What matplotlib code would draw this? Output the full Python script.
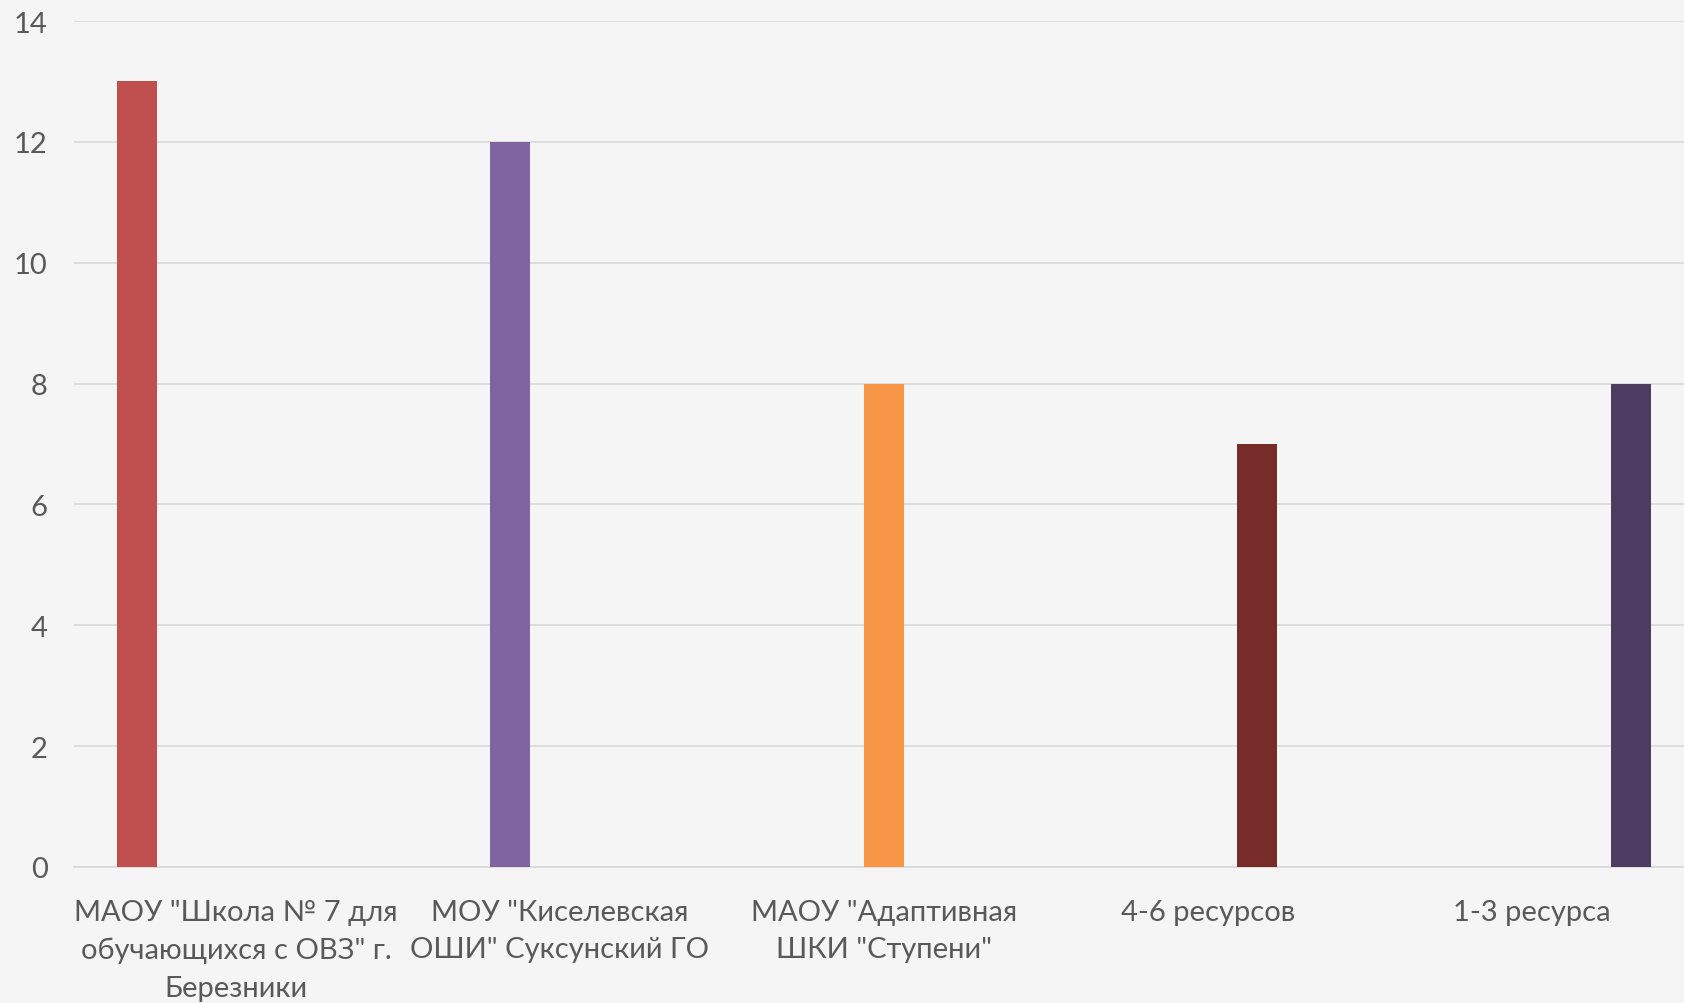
import matplotlib
matplotlib.use("Agg")
import matplotlib.pyplot as plt

# ---------------------------------------------------------------- data
categories = [
    'МАОУ "Школа № 7 для\nобучающихся с ОВЗ" г.\nБерезники',
    'МОУ "Киселевская\nОШИ" Суксунский ГО',
    'МАОУ "Адаптивная\nШКИ "Ступени"',
    '4-6 ресурсов',
    '1-3 ресурса',
]
values = [13, 12, 8, 7, 8]
colors = ["#C0504D", "#8064A2", "#F79646", "#772C2A", "#4D3B62"]
yticks = [0, 2, 4, 6, 8, 10, 12, 14]

# ---------------------------------------------------------------- layout
W, H, DPI = 1684, 1004, 100
BG = "#F5F5F5"
GRID = "#D9D9D9"
TXT = "#595959"
FONT = ["Lato", "DejaVu Sans"]

cat_px = 324.0          # width of one category slot in pixels
step = 49.5 / cat_px    # offset between series inside a cluster
bar_w = 40.0 / cat_px

fig = plt.figure(figsize=(W / DPI, H / DPI), dpi=DPI, facecolor=BG)
left, bottom, top = 74 / W, (H - 868) / H, (H - 22) / H
ax = fig.add_axes([left, bottom, 1 - left, top - bottom], facecolor=BG)

n = len(categories)
for i, (v, c) in enumerate(zip(values, colors)):
    # clustered chart: series i only has a value in category i
    ax.bar(i + (i - (n - 1) / 2) * step, v, width=bar_w, color=c, zorder=3)

ax.set_xlim(-0.5, n - 0.5 - 10 / cat_px)
ax.set_ylim(0, 14)
ax.set_yticks(yticks)
ax.set_xticks(range(n))
ax.set_xticklabels(categories, linespacing=1.55)
ax.yaxis.grid(True, color=GRID, lw=1.2, zorder=0)
ax.set_axisbelow(True)
for s in ("top", "right", "left"):
    ax.spines[s].set_visible(False)
ax.spines["bottom"].set_color(GRID)
ax.spines["bottom"].set_linewidth(1.2)
ax.tick_params(length=0, colors=TXT, labelsize=21)
ax.tick_params(axis="y", pad=19)
ax.tick_params(axis="x", pad=23)
for lab in ax.get_xticklabels() + ax.get_yticklabels():
    lab.set_family(FONT)

fig.savefig("out.png", dpi=DPI, facecolor=BG)
